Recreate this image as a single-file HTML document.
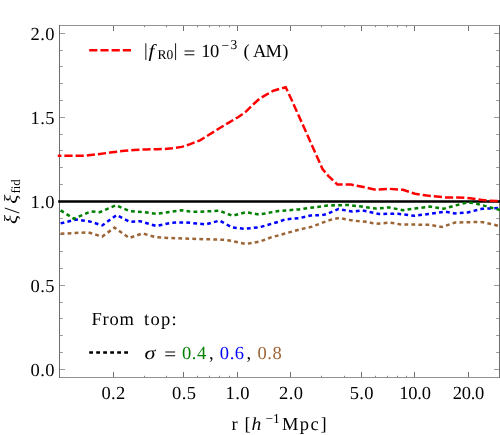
<!DOCTYPE html>
<html><head><meta charset="utf-8"><title>plot</title>
<style>
html,body{margin:0;padding:0;background:#fff;}
body{width:500px;height:435px;overflow:hidden;}
svg{display:block;will-change:transform;}
text{font-family:"Liberation Serif",serif;fill:#000;text-rendering:geometricPrecision;}
.t{font-size:18.5px;letter-spacing:0.6px;}
.i{font-style:italic;}
.s{font-size:13.5px;}
</style></head><body>
<svg width="500" height="435" viewBox="0 0 500 435">
<rect x="0" y="0" width="500" height="435" fill="#fff"/>

<path d="M59.5,369.5 h5.5 M499.5,369.5 h-5.5 M59.5,352.5 h3.3 M499.5,352.5 h-3.3 M59.5,335.5 h3.3 M499.5,335.5 h-3.3 M59.5,318.5 h3.3 M499.5,318.5 h-3.3 M59.5,302.5 h3.3 M499.5,302.5 h-3.3 M59.5,285.5 h5.5 M499.5,285.5 h-5.5 M59.5,268.5 h3.3 M499.5,268.5 h-3.3 M59.5,251.5 h3.3 M499.5,251.5 h-3.3 M59.5,234.5 h3.3 M499.5,234.5 h-3.3 M59.5,218.5 h3.3 M499.5,218.5 h-3.3 M59.5,201.5 h5.5 M499.5,201.5 h-5.5 M59.5,184.5 h3.3 M499.5,184.5 h-3.3 M59.5,167.5 h3.3 M499.5,167.5 h-3.3 M59.5,150.5 h3.3 M499.5,150.5 h-3.3 M59.5,134.5 h3.3 M499.5,134.5 h-3.3 M59.5,117.5 h5.5 M499.5,117.5 h-5.5 M59.5,100.5 h3.3 M499.5,100.5 h-3.3 M59.5,83.5 h3.3 M499.5,83.5 h-3.3 M59.5,66.5 h3.3 M499.5,66.5 h-3.3 M59.5,50.5 h3.3 M499.5,50.5 h-3.3 M59.5,33.5 h5.5 M499.5,33.5 h-5.5" stroke="#999" stroke-width="1" fill="none"/>
<path d="M113.5,377.5 v-5.5 M113.5,25.5 v5.5 M183.5,377.5 v-5.5 M183.5,25.5 v5.5 M237.5,377.5 v-5.5 M237.5,25.5 v5.5 M290.5,377.5 v-5.5 M290.5,25.5 v5.5 M361.5,377.5 v-5.5 M361.5,25.5 v5.5 M414.5,377.5 v-5.5 M414.5,25.5 v5.5 M468.5,377.5 v-5.5 M468.5,25.5 v5.5" stroke="#707070" stroke-width="1" fill="none"/>
<path d="M144.5,377.5 v-1.7 M144.5,25.5 v1.7 M166.5,377.5 v-1.7 M166.5,25.5 v1.7 M197.5,377.5 v-1.7 M197.5,25.5 v1.7 M209.5,377.5 v-1.7 M209.5,25.5 v1.7 M219.5,377.5 v-1.7 M219.5,25.5 v1.7 M229.5,377.5 v-1.7 M229.5,25.5 v1.7 M321.5,377.5 v-1.7 M321.5,25.5 v1.7 M344.5,377.5 v-1.7 M344.5,25.5 v1.7 M375.5,377.5 v-1.7 M375.5,25.5 v1.7 M387.5,377.5 v-1.7 M387.5,25.5 v1.7 M397.5,377.5 v-1.7 M397.5,25.5 v1.7 M406.5,377.5 v-1.7 M406.5,25.5 v1.7" stroke="#808080" stroke-width="1" fill="none"/>
<path d="M59.0,25.5 H500.0 M59.0,377.5 H500.0" stroke="#929292" stroke-width="1" fill="none"/>
<path d="M59.5,25.0 V378.0 M499.5,25.0 V378.0" stroke="#6e6e6e" stroke-width="1" fill="none"/>
<g fill="none" stroke-linejoin="miter">
<path d="M58.2,201.4 H501" stroke="#000" stroke-width="2.5"/>
<path d="M60.6,233.8 L75.2,233.0 L88.4,232.4 L102.2,236.6 L114.5,227.6 L129.2,238.0 L142.4,233.4 L155.6,237.2 L170.0,238.0 L204.6,239.2 L225.0,239.8 L232.0,241.0 L245.8,244.0 L259.6,241.6 L271.6,237.2 L280.0,235.0 L299.0,229.6 L312.2,226.6 L325.4,221.6 L331.2,219.6 L339.0,218.0 L352.8,220.6 L366.0,221.8 L375.6,223.8 L390.0,222.6 L400.6,224.4 L429.4,224.8 L442.0,227.0 L455.0,222.6 L476.0,222.0 L483.2,222.2 L501.0,226.4" stroke="#9c6536" stroke-width="2.5" stroke-dasharray="3.8 3.2"/>
<path d="M60.6,223.4 L75.8,219.6 L82.4,220.4 L89.6,221.4 L102.2,225.4 L116.6,215.0 L129.8,221.8 L140.0,221.2 L156.2,226.0 L170.0,223.0 L177.0,222.4 L185.4,222.4 L205.8,224.4 L219.6,220.6 L232.0,227.4 L244.6,228.8 L259.6,227.2 L278.6,221.8 L285.2,219.4 L299.0,218.2 L312.2,215.2 L321.8,215.2 L326.6,214.0 L338.4,209.0 L352.2,211.6 L362.4,210.4 L379.2,214.0 L390.0,213.8 L398.2,213.8 L414.4,215.8 L428.2,214.0 L445.0,211.6 L454.4,213.4 L467.6,212.4 L482.0,208.8 L501.0,208.0" stroke="#0000ff" stroke-width="2.5" stroke-dasharray="3.8 3.2"/>
<path d="M60.6,210.4 L74.0,218.8 L90.8,211.4 L99.8,212.2 L116.0,205.3 L129.2,211.0 L143.6,212.2 L156.8,213.8 L170.0,212.0 L181.8,210.2 L191.4,211.8 L197.4,211.8 L219.6,210.8 L232.6,215.8 L245.8,212.2 L259.0,214.6 L278.6,211.0 L299.0,209.4 L313.4,207.4 L327.8,205.6 L335.0,205.3 L348.0,205.0 L361.8,206.6 L376.2,208.6 L389.0,207.4 L403.0,210.2 L417.4,208.2 L430.0,206.6 L443.7,208.8 L455.6,205.4 L468.2,202.2 L479.6,204.4 L491.6,207.8 L501.0,210.2" stroke="#008000" stroke-width="2.5" stroke-dasharray="3.8 3.2"/>
<path d="M57.8,155.7 L86.0,155.7 L98.0,154.2 L110.0,152.6 L124.4,150.8 L134.0,150.0 L146.0,149.4 L158.0,149.2 L165.0,149.0 L172.0,148.3 L181.8,146.9 L190.2,144.1 L200.0,140.3 L209.8,134.3 L221.0,127.3 L228.0,123.1 L235.0,118.9 L238.4,117.0 L245.4,112.1 L252.4,105.1 L259.4,98.8 L266.4,94.6 L273.4,90.7 L280.4,88.7 L285.7,87.3 L291.8,100.2 L302.5,124.1 L312.2,146.0 L322.5,169.0 L328.3,175.9 L337.5,184.6 L351.0,184.6 L363.6,187.1 L376.2,189.8 L388.8,188.8 L403.0,189.8 L415.0,193.8 L427.0,195.6 L445.0,197.4 L458.0,197.4 L470.0,198.2 L480.8,199.8 L488.0,200.6 L501.0,201.0" stroke="#ff0000" stroke-width="2.5" stroke-dasharray="8.2 3" stroke-dashoffset="4.6"/>
</g>
<text class="t" x="55.0" y="375.7" text-anchor="end" style="letter-spacing:0.5px">0.0</text>
<text class="t" x="55.0" y="291.7" text-anchor="end" style="letter-spacing:0.5px">0.5</text>
<text class="t" x="55.0" y="207.7" text-anchor="end" style="letter-spacing:0.5px">1.0</text>
<text class="t" x="55.0" y="123.7" text-anchor="end" style="letter-spacing:0.5px">1.5</text>
<text class="t" x="55.0" y="39.7" text-anchor="end" style="letter-spacing:0.5px">2.0</text>
<text class="t" x="113.6" y="399" text-anchor="middle" style="letter-spacing:0.4px">0.2</text>
<text class="t" x="184.2" y="399" text-anchor="middle" style="letter-spacing:0.4px">0.5</text>
<text class="t" x="237.7" y="399" text-anchor="middle" style="letter-spacing:0.4px">1.0</text>
<text class="t" x="291.2" y="399" text-anchor="middle" style="letter-spacing:0.4px">2.0</text>
<text class="t" x="361.8" y="399" text-anchor="middle" style="letter-spacing:0.4px">5.0</text>
<text class="t" x="415.0" y="399" text-anchor="middle" style="letter-spacing:-0.25px">10.0</text>
<text class="t" x="468.4" y="399" text-anchor="middle" style="letter-spacing:-0.25px">20.0</text>
<path d="M89.2,50.3 H131" stroke="#ff0000" stroke-width="2.5" stroke-dasharray="8.2 3" fill="none"/>
<text class="t" x="144.0" y="56.2">|</text>
<text class="t i" transform="translate(148.6,56.6) scale(1.15,1)">f</text>
<text class="s" x="157.6" y="59">R0</text>
<text class="t" x="173.8" y="56.2">|</text>
<text class="t" transform="translate(183.6,58.6) scale(1.14,1)">=</text>
<text class="t" x="201.2" y="56.6" style="letter-spacing:-0.5px">10</text>
<text class="s" x="221.5" y="49.8">−</text>
<text class="s" x="230.5" y="48.6">3</text>
<text class="t" x="243.5" y="56.6">(</text>
<text class="t" x="252.9" y="56.6" style="letter-spacing:-0.8px">AM</text>
<text class="t" x="282.2" y="56.6">)</text>
<text class="t" x="91.5" y="325.3" style="letter-spacing:0.8px">From</text>
<text class="t" x="144" y="325.3" style="letter-spacing:1.3px">top:</text>
<path d="M89.2,352.6 H128.2" stroke="#000" stroke-width="2.5" stroke-dasharray="3.8 3.2" fill="none"/>
<text class="t i" transform="translate(144.6,358.6) scale(1.2,1)">σ</text>
<text class="t" transform="translate(164.2,360.2) scale(1.14,1)">=</text>
<text class="t" x="182" y="358.6" style="fill:#008000">0.4</text>
<text class="t" x="209" y="358.6">,</text>
<text class="t" x="219.8" y="358.6" style="fill:#0000ff">0.6</text>
<text class="t" x="246.4" y="358.6">,</text>
<text class="t" x="257.5" y="358.6" style="fill:#9c6536">0.8</text>
<text class="t" x="231.5" y="429.8">r</text>
<text class="t" x="244.5" y="429.8">[</text>
<text class="t i" transform="translate(251.5,429.8) scale(1.06,1)">h</text>
<text class="s" x="265.5" y="422.6">−</text>
<text class="s" x="273" y="422.6">1</text>
<text class="t" x="281.9" y="429.8" style="letter-spacing:1.5px">Mpc</text>
<text class="t" x="320.5" y="429.8">]</text>
<g transform="translate(16.3,224) rotate(-90)">
<text class="t i" transform="translate(0,1.0) scale(1.15,1)">ξ</text>
<text class="t" transform="translate(10.6,3) scale(1.15,1.17)">/</text>
<text class="t i" transform="translate(20.3,1.0) scale(1.15,1)">ξ</text>
<text x="30.4" y="3.6" style="font-size:13px">fid</text>
</g>
</svg></body></html>
